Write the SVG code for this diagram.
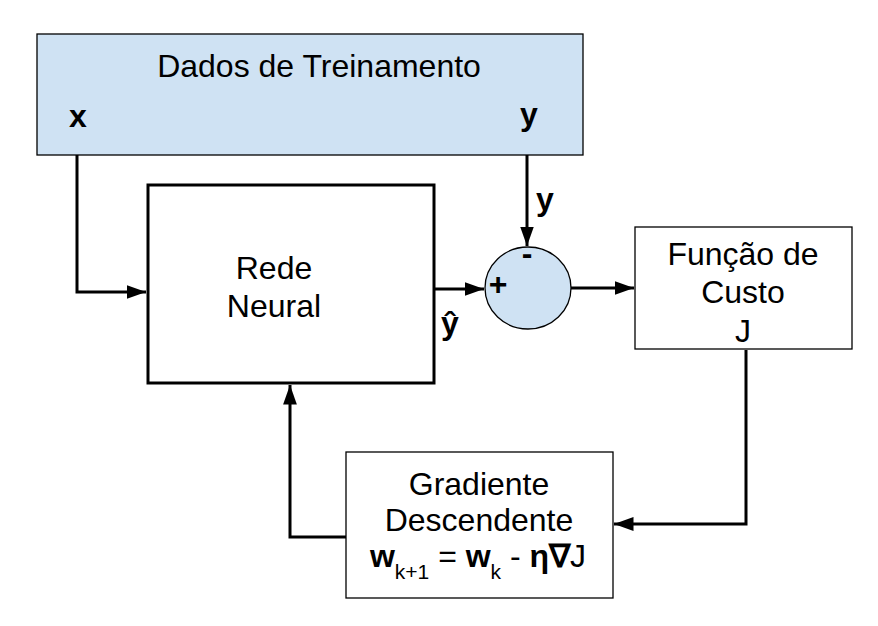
<svg xmlns="http://www.w3.org/2000/svg" width="878" height="626" viewBox="0 0 878 626">
<defs>
<style>
.t{font-family:"Liberation Sans",Arial,sans-serif;font-size:32px;fill:#000}
.b{font-weight:bold}
.thin{fill:#fff;stroke:#000;stroke-width:1.3}
.blue{fill:#cfe2f3;stroke:#000;stroke-width:1.3}
.thick{fill:#fff;stroke:#000;stroke-width:3}
.c{fill:none;stroke:#000;stroke-width:3}
</style>
<marker id="ah" markerWidth="6.5" markerHeight="4.6" refX="6.5" refY="2.3" orient="auto" markerUnits="strokeWidth">
<path d="M0,0 L6.5,2.3 L0,4.6 Z" fill="#000"/>
</marker>
</defs>
<rect width="878" height="626" fill="#fff"/>
<g id="dados">
<rect class="blue" x="37" y="34" width="546" height="121"/>
<text class="t" x="319" y="77" text-anchor="middle">Dados de Treinamento</text>
<text class="t b" x="78" y="127" text-anchor="middle">x</text>
<text class="t b" x="529" y="125" text-anchor="middle">y</text>
</g>
<g id="rede">
<rect class="thick" x="148" y="185" width="286" height="198"/>
<text class="t" x="274" y="279" text-anchor="middle">Rede</text>
<text class="t" x="274" y="317" text-anchor="middle">Neural</text>
</g>
<g id="soma">
<ellipse class="blue" cx="528" cy="288" rx="43" ry="41"/>
<text class="t b" x="527" y="264" text-anchor="middle" font-size="22">-</text>
<text class="t b" x="498" y="295" text-anchor="middle" font-size="22">+</text>
</g>
<g id="funcao">
<rect class="thin" x="635" y="227" width="217" height="122"/>
<text class="t" x="743" y="265" text-anchor="middle">Função de</text>
<text class="t" x="743" y="303" text-anchor="middle">Custo</text>
<text class="t" x="743" y="342" text-anchor="middle">J</text>
</g>
<g id="gradiente">
<rect class="thin" x="346" y="452" width="267" height="146"/>
<text class="t" x="479" y="495" text-anchor="middle">Gradiente</text>
<text class="t" x="479" y="531" text-anchor="middle">Descendente</text>
<text class="t" x="478" y="567" text-anchor="middle"><tspan class="b">w</tspan><tspan font-size="21" dy="12">k+1</tspan><tspan dy="-12"> = </tspan><tspan class="b">w</tspan><tspan font-size="21" dy="12">k</tspan><tspan dy="-12"> - </tspan><tspan class="b">η∇</tspan><tspan>J</tspan></text>
</g>
<g id="connectors">
<path class="c" d="M77,155 V292 H146" marker-end="url(#ah)"/>
<path class="c" d="M527,155 V246" marker-end="url(#ah)"/>
<path class="c" d="M434,289 H484" marker-end="url(#ah)"/>
<path class="c" d="M571,288 H634" marker-end="url(#ah)"/>
<path class="c" d="M746,350 V524 H614" marker-end="url(#ah)"/>
<path class="c" d="M346,537 H290 V385" marker-end="url(#ah)"/>
<text class="t b" x="545" y="210" text-anchor="middle">y</text>
<text class="t b" x="450" y="334" text-anchor="middle">ŷ</text>
</g>
</svg>
